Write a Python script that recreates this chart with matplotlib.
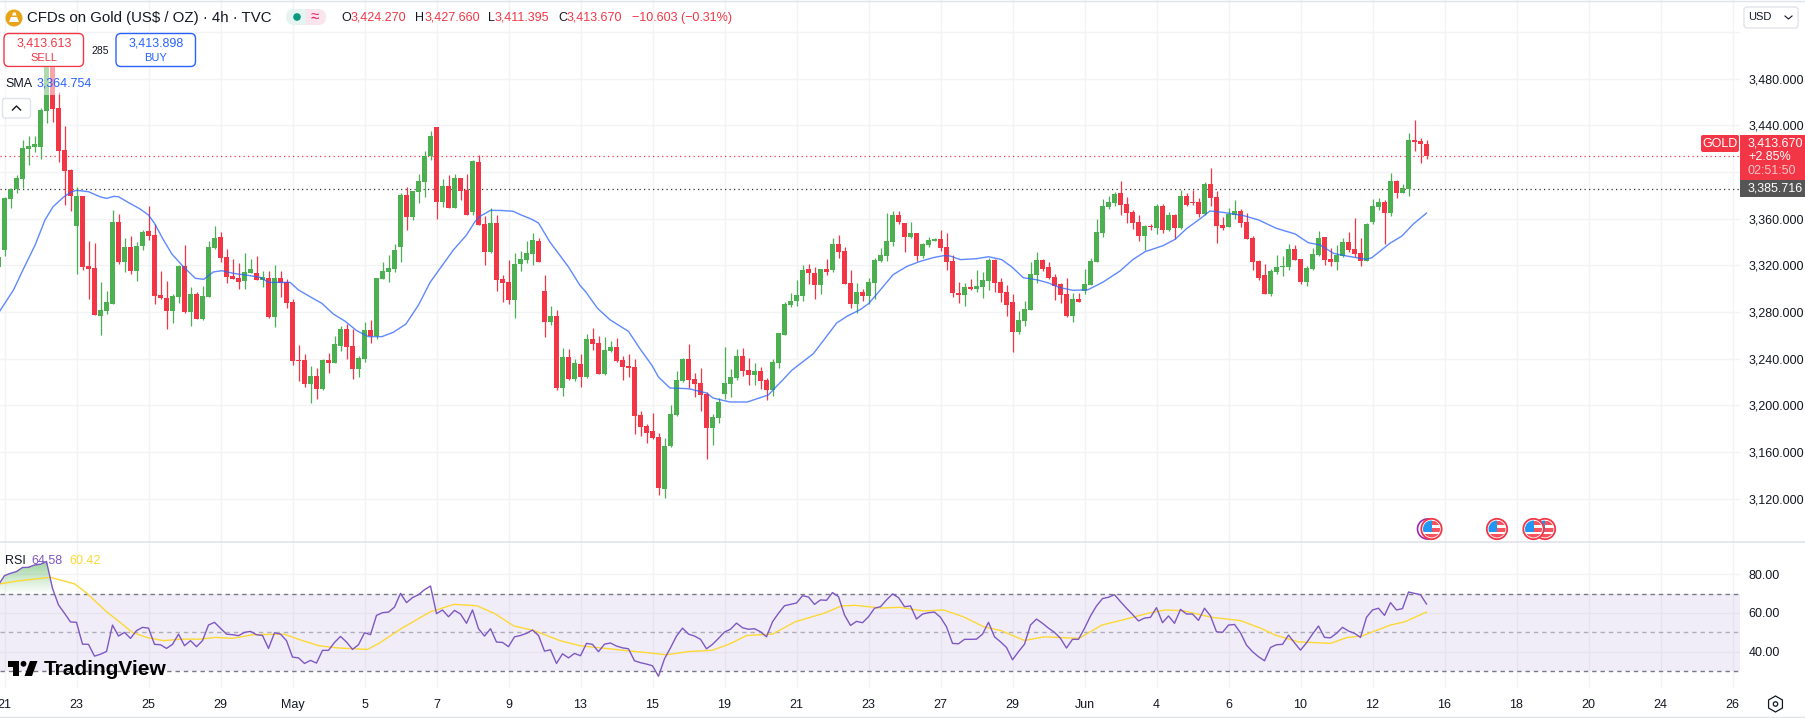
#!/usr/bin/env python
import matplotlib
matplotlib.use("Agg")
import matplotlib.pyplot as plt
import numpy as np
from matplotlib.colors import LinearSegmentedColormap
from matplotlib.patches import Circle, FancyBboxPatch, Polygon, Rectangle, RegularPolygon

plt.rcParams['font.family'] = ['Liberation Sans', 'DejaVu Sans']

# 4h bars, the first one sits just left of the "21" tick
price_open = [3318.9,
    3333.1,3376.9,3385.4,3394,3419.7,3421.4,3421.4,3452.3,3496,3454.9,
    3418.9,3401.7,3353.7,3379.4,3319.4,3317.7,3276.6,3280.9,3286.9,3357.1,
    3322.9,3335.7,3315.1,3336.6,3349.4,3346,3294.6,3292,3280.9,3292.9,
    3319.4,3280,3295.4,3274,3292.9,3334.9,3344.3,3327.1,3310.9,3309.1,
    3306.6,3313.4,3313.4,3307.4,3309.1,3275.7,3309.1,3305.7,3288.6,3238.9,
    3238.9,3218.3,3225.1,3214,3238.9,3236.3,3250.9,3265.4,3250.9,3231.1,
    3239.7,3264.6,3259.4,3308.3,3314.3,3316.9,3335.7,3380.3,3361.4,3382.9,
    3391.4,3413.7,3438.6,3374.3,3388,3369.1,3394.9,3384.6,3365.7,3408.6,
    3355.1,3331.1,3356,3308,3305.4,3290,3320.9,3324.3,3329.4,3340.6,
    3297.7,3271.1,3276.3,3214.6,3241.1,3222.3,3235.1,3224,3256.6,3253.1,
    3226.6,3246.3,3249.7,3238.6,3233.4,3232.6,3191.4,3182,3177.7,3172.6,
    3128,3164.9,3191.4,3220.6,3239.4,3222.3,3218.9,3209.4,3180.3,3188.9,
    3209.7,3218.3,3223.1,3242,3230,3225.7,3229.1,3221.7,3213.1,3236,
    3260,3285.7,3289.1,3293.4,3316.6,3313.1,3302.9,3316.6,3315.7,3338,
    3332,3304.6,3286.6,3296.9,3293.4,3304.6,3323.4,3327.7,3339.7,3362.9,
    3356,3344,3347.4,3327.7,3337.1,3340.6,3342.3,3335.4,3323.4,3296,
    3294.3,3301.1,3299.4,3301.1,3306.3,3324.3,3305.4,3296.9,3288.3,3262.6,
    3272,3281.4,3311.4,3324.3,3318.3,3309.7,3303.7,3295.1,3276.3,3290.9,
    3297.7,3302.9,3322.6,3347.4,3369.7,3373.1,3381.7,3372.3,3365.4,3356.9,
    3344.9,3353.4,3351.7,3370.6,3350,3362.9,3351.7,3379.1,3374,3374,
    3364,3389.7,3378.6,3354.6,3352.9,3363.1,3366.6,3357.1,3343.4,3323.7,
    3311.7,3295.4,3314.3,3318.6,3318.6,3334,3325.4,3305.7,3316.9,3328.9,
    3344.3,3325.4,3322.9,3328,3340,3334,3330.6,3323.7,3357.1,3370,
    3374.3,3364.9,3392.3,3382,3385.4,3427.4,3426.6,3424.27]
price_high = [3329,
    3378.9,3386,3397.4,3427.4,3430.9,3430.9,3454.9,3505,3500,3468.6,
    3439.4,3402.6,3387.1,3379.4,3340.9,3339.1,3305.7,3298,3367.4,3364,
    3343.4,3345.1,3340,3350.3,3370.9,3355.4,3315.1,3306.6,3295.4,3320.3,
    3337.4,3301.4,3297.1,3302.3,3340.9,3353.7,3348.6,3334,3325.4,3322,
    3330.6,3325.4,3328,3315.1,3315.1,3320.3,3315.1,3308.3,3291.1,3251.7,
    3244,3233.7,3232,3239.7,3244.9,3259.4,3268,3269.7,3265.4,3242.3,
    3271.4,3273.1,3309.1,3322.9,3328.9,3338.3,3382,3387.1,3383.7,3398.3,
    3418,3435.1,3438.6,3394,3397.4,3398.3,3394.9,3398.3,3410.3,3414.6,
    3362,3368.9,3362.9,3311.4,3324.3,3330.3,3332,3340.6,3347.4,3343.1,
    3311.4,3284.9,3281.4,3248.9,3248,3239.4,3243.7,3260.9,3266,3259.1,
    3258.3,3254.9,3257.4,3242,3243.7,3239.4,3194.9,3183.7,3193.1,3176,
    3171.7,3200,3229.1,3240.3,3252.3,3227.4,3231.7,3211.1,3192.3,3206,
    3249.7,3230.9,3248,3248.9,3240.3,3236,3232.6,3223.1,3239.4,3261.7,
    3288.3,3296,3307.1,3320,3320.9,3318.3,3316.6,3325.1,3343.1,3345.7,
    3335.4,3315.7,3304.6,3299.4,3308.9,3326,3334.6,3364.6,3366.3,3366.3,
    3356,3356.9,3347.4,3338.9,3344,3343.1,3350,3347.4,3328.6,3305.4,
    3304.6,3308,3315.7,3314,3326,3325.1,3308.9,3302.9,3295.1,3280.6,
    3289.1,3322.6,3331.1,3325.1,3322.6,3312.3,3304.6,3308.9,3296,3296,
    3316.6,3326,3359.4,3376.6,3379.1,3382.6,3392,3378.3,3367.1,3362.9,
    3354.3,3355.1,3372.3,3372.3,3365.4,3363.7,3384.3,3381.7,3384.3,3377.4,
    3391.4,3403.4,3383.7,3361.4,3369.1,3376,3368.3,3364.9,3345.1,3324.6,
    3321.1,3316.9,3328.9,3328,3338.3,3337.4,3325.4,3319.4,3334.9,3349.4,
    3344.3,3334.9,3337.4,3343.4,3348.6,3360.6,3343.4,3356.3,3376.9,3377.7,
    3376,3399.1,3393.1,3389.7,3433.4,3444.6,3429.1,3427.66]
price_low = [3317,
    3328,3369.1,3381.7,3386,3406,3417.1,3411.1,3442.3,3442.9,3408.6,
    3371.7,3366.6,3312.6,3316,3291.1,3277.4,3260.3,3278.3,3286.9,3321.1,
    3314.3,3312.6,3306.6,3333.1,3341.7,3286.9,3291,3265.4,3270.6,3287.7,
    3279.1,3268,3274,3273.1,3292.9,3334,3322.9,3304.9,3308.3,3299.7,
    3299.7,3313.4,3307.4,3301.4,3274.9,3267.1,3292.9,3283.4,3234.6,3220.9,
    3215.7,3202,3205.4,3213.1,3227.7,3236.3,3246.6,3239.7,3222.6,3224.3,
    3237.1,3253.4,3256.9,3308.3,3305.7,3314.3,3322.9,3350.3,3358.9,3373.4,
    3378.6,3410.3,3359.7,3370,3369.1,3369.1,3376,3363.1,3363.1,3354.6,
    3320,3330.3,3297.7,3288.3,3286.6,3274.6,3314.9,3321.7,3320,3322.6,
    3258.3,3268.6,3212.9,3207.7,3221.4,3220.6,3215.4,3223.1,3247.1,3226.6,
    3225.7,3245.4,3236.9,3221.4,3224,3175.1,3173.4,3167.4,3170.9,3122.9,
    3120.3,3164,3190.6,3219.7,3214.6,3206.9,3194.9,3153.7,3165.7,3184.6,
    3205.4,3207,3221.4,3224.9,3217.4,3217.4,3214,3204.6,3208,3231.7,
    3260,3284,3284.9,3289.1,3303.7,3290.9,3295.1,3311.4,3314,3326,
    3303.7,3283.1,3278.9,3289.1,3286.6,3290.9,3322.6,3323.4,3336.3,3355.1,
    3331.1,3343.1,3323.4,3326,3335.4,3340.6,3332,3315.7,3292.6,3287.4,
    3284.9,3298.6,3296.9,3291.7,3298.6,3296.9,3288.3,3276.3,3245.4,3260.9,
    3267.7,3281.4,3304.6,3314.9,3308,3290,3287.4,3275.4,3271.1,3288.3,
    3295.1,3302.9,3322.6,3344,3368,3370.6,3362.9,3356,3350.9,3340.6,
    3332.9,3350,3346.6,3347.4,3349.1,3342.3,3350.9,3370.6,3371.4,3361.1,
    3363.1,3370.9,3339.1,3350.3,3352.9,3359.7,3352.9,3342.6,3316,3307.4,
    3295.4,3293.7,3312.6,3310.9,3316,3324.6,3304,3302.3,3316,3328,
    3320.3,3319.4,3316,3327.1,3331.4,3327.1,3319.4,3323.7,3355.4,3367.4,
    3338.3,3362.3,3377.7,3382,3379.4,3418,3407.7,3411.395]
price_close = [3327.4,
    3377.7,3385.4,3394.9,3420.6,3422.3,3424,3453.1,3496,3454,3418,
    3400.9,3379.4,3379.4,3318.6,3316.9,3277.4,3281.7,3288.6,3357.1,3322.9,
    3335.7,3315.1,3336.6,3348.6,3345.1,3293.7,3292,3280.9,3293.7,3319.4,
    3280,3295.4,3274,3293.7,3335.7,3343.4,3326.3,3310,3308.3,3305.7,
    3314.3,3316.9,3307.4,3310,3275.7,3309.1,3304.9,3287.7,3238,3238,
    3218.3,3225.1,3214,3238.9,3236.3,3252.6,3265.4,3250,3231.1,3240.6,
    3264.6,3259.4,3309.1,3315.1,3317.7,3333.1,3380.3,3361.4,3383.7,3392.3,
    3413.7,3430.9,3374.3,3388,3369.1,3394.9,3383.7,3363.1,3409.4,3354.6,
    3331.1,3356,3307.1,3304.6,3290,3320.9,3325.1,3330.3,3341.4,3322.6,
    3271.1,3276.3,3214.6,3241.1,3222.3,3236,3224,3256.6,3252.3,3226.6,
    3247.1,3249.7,3237.7,3232.6,3231.7,3190.6,3181.1,3176,3171.7,3128.9,
    3164.9,3192.3,3221.4,3239.4,3221.4,3218,3208.6,3180.3,3189.7,3202.6,
    3219.1,3224,3242,3229.1,3225.7,3229.1,3220.9,3213.1,3236.9,3261.7,
    3286.6,3289.1,3294.3,3315.7,3313.1,3302.9,3316.6,3314,3338,3331.1,
    3303.7,3286.6,3296.9,3293.4,3305.4,3324.3,3328.6,3340.6,3362.9,3356.9,
    3344,3347.4,3327.7,3338,3341.4,3342.3,3334.6,3322.6,3296,3294.3,
    3301.1,3299.4,3302,3307.1,3324.3,3304.6,3296,3285.7,3262.6,3272.9,
    3282.3,3312.3,3324.3,3316.6,3308.9,3302,3294.3,3276.3,3290.9,3288.3,
    3303.7,3323.4,3348.3,3370.6,3374,3380.9,3371.4,3364.6,3356,3344.9,
    3353.4,3352.6,3370.6,3350,3362.9,3351.7,3379.1,3371.4,3373.1,3363.7,
    3389.7,3377.7,3353.7,3352,3364,3366.6,3356.3,3342.6,3322.9,3309.1,
    3295.4,3315.1,3318.6,3319.4,3334,3324.6,3305.7,3317.7,3329.7,3343.4,
    3324.6,3322.9,3328.9,3340,3333.1,3329.7,3323.7,3355.4,3370.9,3374.3,
    3364.9,3392.3,3382,3386.3,3427.4,3425.7,3424,3413.67]

# moving average, read at its bends (bar number, price)
sma_bar = [-0.75,1.5,3.2,5.1,6.75,8.1,9.8,11,12,14,16,17,18.2,19,20.7,22.6,24,25,26.5,27.9,
    29.8,31.8,33.2,34.8,36.2,38.2,41,42.6,44,47.6,49,51,52.9,54.8,56.8,58.7,60.7,62.9,64.8,66.9,
    69,70.9,72.6,74.8,77,78.4,79.25,81,83,84.8,86,87.9,89,90.9,94,95.9,96.9,98.8,100.9,104,
    105.9,107.9,109,110.9,114,117,118.1,120.9,123.8,127.3,129.8,131.2,134.8,136.5,138.7,140.4,
    142.6,144,146,148.1,150.4,152.6,154.8,156.5,157.6,159.3,162,164,166.2,167.9,169.8,172,174,
    175.9,178.1,180.6,183.1,185.9,188.1,190.1,193.1,195.1,197,199.3,200.9,203.1,206.5,209,212,
    215.1,217.3,219.3,221.5,223.7,227,227.9,230.9,232.9,234.8,237]
sma_val = [3281.1,3298.9,3317.4,3337.4,3358.9,3370.3,3378.3,3382.6,3384.3,3383.1,3378.6,3377.4,3379.1,
    3378.8,3373.7,3368.3,3363.1,3356,3341.7,3329.7,3318.9,3308.9,3308,3314.3,3315.4,3313.1,3311.1,
    3309.7,3305.4,3305.4,3298.9,3292.9,3287.4,3278.3,3272,3264,3258.9,3258.9,3262.6,3269.7,3286,
    3305.1,3317.4,3333.1,3346,3357.4,3362,3367.1,3367,3366.3,3363.4,3359.4,3356.3,3340,3318.6,
    3302.9,3297.1,3283.4,3273.4,3263.4,3248.6,3234.3,3224.3,3214.9,3214.3,3210.6,3206.3,3202.9,
    3202.9,3208.9,3222.3,3230,3244.3,3255.7,3270.6,3276.3,3282,3287.1,3299.1,3312,3319.1,3323.4,
    3326.6,3328.3,3328,3324.9,3325.7,3327.4,3324.9,3318.6,3309.4,3307.7,3304.9,3300.9,3298.6,
    3299.1,3305.7,3315.1,3325.1,3331.7,3336.9,3342.3,3351.4,3360,3366.6,3365.4,3362.6,3358.9,
    3351.7,3346.9,3339.4,3337.4,3330.3,3328,3325.1,3326.6,3338.9,3345.1,3355.4,3364.75]

# RSI, one value per bar
rsi_val = [74.5,
    79.3,80.5,81.4,83.5,83.6,84.8,85.2,86.6,72.7,64.1,
    59.8,55.3,55.1,43.8,43.7,37.6,38.6,40,53.7,48,
    49.9,46.8,50.8,52.5,52.1,43.7,43.5,41.6,43.7,49,
    43,45.6,42.5,45.6,53.7,55.1,52,49,48.7,48.2,
    49.9,50.4,48.7,48.3,41.6,49.7,49,45.6,37.1,36.7,
    33.8,35.4,34,40.6,40.6,44.7,47.8,44.9,41.1,43.5,
    49.7,48.7,58.7,60.1,60.4,63,70.1,65.3,67.9,69.4,
    72,73.9,59.6,61.5,58,61.3,59.4,54.6,61.5,51.8,
    48,51.8,44.9,44.7,42.5,47.6,48.3,49.4,51.1,48.3,
    40.2,40.9,33.8,38.8,36.7,39,37.8,44.2,43.7,39.9,
    43.8,44.4,42.8,41.9,41.4,35.2,34.2,33.5,32.6,27.2,
    36.2,41.9,48,52.1,49,48,46.3,41.4,43.7,46.8,
    50.1,51.5,54.7,52.3,51.5,51.8,50.2,47.6,55.4,59.8,
    63.7,64.4,65.1,68.9,68.2,64.4,66.7,66.5,70.5,68.4,
    58.9,53.5,55.6,54.9,58,62.4,63.2,66.7,69.8,67.9,
    63.2,63.6,56.8,59.4,60.1,60.4,57.7,52.8,44.2,44,
    46.3,46.3,46.4,49,55.1,47.6,45,42.1,35.7,39.9,
    43.8,53.7,56.8,54.6,52.1,49.9,46.8,41.8,46.3,46.3,
    52,58.4,63.6,67.4,68.1,69.4,65.8,62.4,59.2,55.8,
    57.3,57.7,62.7,54.9,58.4,54.6,61.8,59.4,59.4,56.1,
    62.4,58.4,50.2,49.9,53.7,54,49.7,43.3,39.9,37.3,
    35.2,42.1,43.5,43.7,48.5,44.5,40.7,44.5,49,53.2,
    47.3,47.1,49.4,52.5,50.6,49.4,47.3,57.7,61.5,62.4,
    58.7,65.3,61.5,62.2,70.8,70.1,69.4,64.58]

# RSI average, read at its bends
rsi_ma_bar = [-0.75,2.1,7.7,11.7,13.6,17,18.9,21.3,23.7,26.5,29.4,32.7,35.1,38,41.4,46.6,49,52.4,55.7,60.5,
    62.4,66.2,71,74.9,78.7,81.6,84.9,88.3,92.6,95.9,102.6,107.4,110.3,114.1,117.9,120.8,123.7,128,131.8,
    136.6,139.5,141.8,146.1,149.25,153.1,156.5,159.8,163.2,166.1,170,173.3,179.1,182.9,186.3,190.6,193.5,
    196.4,201.2,206,209.4,211.8,215.6,221,223.8,226.2,231,233.4,237]
rsi_ma_val = [75,76.5,78.4,75,70.5,60.6,56,49.9,47.3,45.6,46.4,46.4,47.3,46.8,48.7,49,46.3,43,41.8,41.1,
    44.2,52,60.6,64.4,63.7,59.8,53.2,50.8,45.6,43,40.8,39.3,38.3,40,40.6,43.8,48.3,49,55.4,
    59.8,63.6,63.9,62.5,62.9,61,61.5,58,52.8,50.8,45.7,47.6,46.8,53.7,56.3,59.8,61.5,
    61.1,57.7,56,52,48.5,45,44.2,47.3,48,53.7,55.4,60.42]

# one tick every 12 bars
date_labels = ['21','23','25','29','May','5','7','9','13','15','19','21','23','27','29','Jun',
    '4','6','10','12','16','18','20','24','26']
price_ticks = [3120,3160,3200,3240,3280,3320,3360,3400,3440,3480,3520]
price_tick_labels = ['3,120.000','3,160.000','3,200.000','3,240.000','3,280.000','3,320.000','3,360.000',
    '','3,440.000','3,480.000','']
rsi_ticks = [40,60,80]
rsi_tick_labels = ['40.00','60.00','80.00']
last_price = 3413.67
prev_close = 3385.716

GREEN = '#4caf50'
RED = '#f23645'
BLUE = '#2962ff'
GRID = '#f2f3f5'
TEXT = '#131722'
PURPLE = '#7e57c2'

W, H = 1805, 718
PANE_W = 1740.0
PANE_SPLIT = 542.0
RSI_BOTTOM = 688.0

def px_axes(fig, x0, y0, x1, y1, **kw):
    return fig.add_axes([x0 / W, 1 - y1 / H, (x1 - x0) / W, (y1 - y0) / H], **kw)

fig = plt.figure(figsize=(W / 100.0, H / 100.0), dpi=100, facecolor='white')
ax = px_axes(fig, 0, 0, PANE_W, PANE_SPLIT)
ax_rsi = px_axes(fig, 0, PANE_SPLIT, PANE_W, RSI_BOTTOM)
over = px_axes(fig, 0, 0, W, H, zorder=5)
over.set_xlim(0, W)
over.set_ylim(H, 0)
over.axis('off')
over.patch.set_alpha(0)

bars = np.arange(len(price_open)) - 1
po = np.array(price_open)
ph = np.array(price_high)
pl = np.array(price_low)
pc = np.array(price_close)
up = pc >= po
colors = np.where(up, GREEN, RED)
tick_bars = np.arange(len(date_labels)) * 12

# candles
ax.vlines(bars, pl, ph, colors=colors, linewidth=0.9, zorder=3)
ax.bar(bars, np.maximum(np.abs(pc - po), 0.9), bottom=np.minimum(po, pc), width=5.0 / 6, color=colors, linewidth=0, zorder=4)
ax.plot(sma_bar, sma_val, color=BLUE, lw=1.0, alpha=0.75, zorder=5)
ax.axhline(last_price, color=RED, lw=0.9, dashes=(1, 2.6), zorder=2)
ax.axhline(prev_close, color='#333333', lw=0.9, dashes=(1, 2.6), zorder=2)

ax.set_xlim(-0.75, 289.25)
ax.set_ylim(3082.9, 3547.4)
ax.set_xticks(tick_bars)
ax.set_xticklabels([])
ax.set_yticks(price_ticks)
ax.set_yticklabels(price_tick_labels, fontsize=9, color=TEXT)
ax.yaxis.tick_right()
ax.tick_params(axis='both', length=0, pad=6.2)
ax.grid(True, color=GRID, lw=1.0, zorder=0)
ax.set_axisbelow(True)
for s in ax.spines.values():
    s.set_visible(False)

# RSI pane
rsi = np.array(rsi_val)
ax_rsi.axhspan(30, 70, color=PURPLE, alpha=0.1, lw=0, zorder=1)
ax_rsi.axhline(70, color='#787b86', lw=1.0, dashes=(3.2, 2.8), zorder=2)
ax_rsi.axhline(50, color='#787b86', lw=1.0, dashes=(3.2, 2.8), alpha=0.55, zorder=2)
ax_rsi.axhline(30, color='#787b86', lw=1.0, dashes=(3.2, 2.8), zorder=2)
# green fade above the 70 band
hot = ax_rsi.fill_between(bars, 70, rsi, where=rsi > 70, interpolate=True, color='none', lw=0)
fade = LinearSegmentedColormap.from_list('fade', [(0.3, 0.69, 0.31, 0.0), (0.3, 0.69, 0.31, 0.55)])
grad = ax_rsi.imshow(np.linspace(1, 0, 64).reshape(-1, 1), extent=[-1, 12, 70, 87], aspect='auto', cmap=fade, zorder=2)
grad.set_clip_path(hot.get_paths()[0], transform=ax_rsi.transData)
ax_rsi.plot(bars, rsi, color=PURPLE, lw=1.0, zorder=4)
ax_rsi.plot(rsi_ma_bar, rsi_ma_val, color='#fdd835', lw=1.0, zorder=3)
ax_rsi.set_xlim(-0.75, 289.25)
ax_rsi.set_ylim(21.1, 96.7)
ax_rsi.set_xticks(tick_bars)
ax_rsi.set_xticklabels(date_labels, fontsize=9, color=TEXT)
ax_rsi.set_yticks(rsi_ticks)
ax_rsi.set_yticklabels(rsi_tick_labels, fontsize=9, color=TEXT)
ax_rsi.yaxis.tick_right()
ax_rsi.tick_params(axis='y', length=0, pad=6.2)
ax_rsi.tick_params(axis='x', length=0, pad=7.8)
ax_rsi.grid(True, color=GRID, lw=1.0, zorder=0)
ax_rsi.set_axisbelow(True)
for s in ax_rsi.spines.values():
    s.set_visible(False)

# pane borders
over.plot([0, W], [1, 1], color='#e0e3eb', lw=1.0)
over.plot([0, W], [PANE_SPLIT, PANE_SPLIT], color='#e0e3eb', lw=1.2)
over.plot([0, W], [717, 717], color='#e0e3eb', lw=1.0)

# header
over.add_patch(Circle((14, 18), 8.5, fc='#e8a317', ec='none'))
over.add_patch(Polygon([(9, 22), (11, 17), (17, 17), (19, 22)], fc='white', ec='none'))
over.add_patch(Polygon([(12, 15.5), (13, 12.5), (15.5, 12.5), (16.5, 15.5)], fc='white', ec='none'))
over.text(27, 18, 'CFDs on Gold (US$ / OZ) · 4h · TVC', fontsize=10.8, color=TEXT, va='center')
over.add_patch(FancyBboxPatch((286, 9), 32, 16, boxstyle='round,pad=0,rounding_size=8', fc='#e6f4f1', ec='none'))
over.add_patch(Rectangle((306, 9), 12, 16, fc='#fce4ec', ec='none'))
over.add_patch(FancyBboxPatch((310, 9), 16, 16, boxstyle='round,pad=0,rounding_size=8', fc='#fce4ec', ec='none'))
over.add_patch(Circle((297, 17), 3.8, fc='#089981', ec='none'))
over.text(315, 17, '≈', fontsize=11, color='#e91e63', ha='center', va='center')
ohlc_parts = [('O', 341, TEXT), ('3,424.270', 351, RED), ('H', 415, TEXT), ('3,427.660', 425, RED),
    ('L', 488, TEXT), ('3,411.395', 495, RED), ('C', 558, TEXT), ('3,413.670', 567, RED),
    ('−10.603 (−0.31%)', 632, RED)]
for label, xpos, col in ohlc_parts:
    over.text(xpos, 18, label, fontsize=9, color=col, va='center')

# buy and sell boxes
over.add_patch(FancyBboxPatch((4, 33.5), 79.5, 33, boxstyle='round,pad=0,rounding_size=5', fc='white', ec=RED, lw=1.0))
over.text(44, 44, '3,413.613', fontsize=9, color=RED, ha='center', va='center')
over.text(44, 58, 'SELL', fontsize=8, color=RED, ha='center', va='center')
over.add_patch(FancyBboxPatch((116, 33.5), 79.5, 33, boxstyle='round,pad=0,rounding_size=5', fc='white', ec=BLUE, lw=1.0))
over.text(156, 44, '3,413.898', fontsize=9, color=BLUE, ha='center', va='center')
over.text(156, 58, 'BUY', fontsize=8, color=BLUE, ha='center', va='center')
over.text(100, 50.5, '285', fontsize=7.5, color=TEXT, ha='center', va='center')

# legend rows, the candles show through faintly
over.add_patch(Rectangle((0, 67), 96, 28, fc='white', ec='none', alpha=0.55))
over.text(5, 84, 'SMA', fontsize=9, color=TEXT, va='center')
over.text(36.5, 84, '3,364.754', fontsize=9, color=BLUE, va='center')
over.add_patch(FancyBboxPatch((2.5, 98.5), 28, 19.5, boxstyle='round,pad=0,rounding_size=2.5', fc='white', ec='#e0e3eb', lw=1.0))
over.plot([12.5, 16.5, 20.5], [110, 106, 110], color=TEXT, lw=1.0)
over.text(5, 560.5, 'RSI', fontsize=9, color=TEXT, va='center')
over.text(31, 560.5, '64.58', fontsize=9, color=PURPLE, va='center')
over.text(69, 560.5, '60.42', fontsize=9, color='#fdd835', va='center')

# price tags
over.add_patch(FancyBboxPatch((1701, 135), 38, 17, boxstyle='round,pad=0,rounding_size=2', fc=RED, ec='none'))
over.text(1720, 144, 'GOLD', fontsize=9, color='white', ha='center', va='center')
over.add_patch(Rectangle((1740, 135), 65, 45, fc=RED, ec='none'))
over.text(1748, 143, '3,413.670', fontsize=9, color='white', va='center')
over.text(1748, 157, '+2.85%', fontsize=9, color='white', va='center')
over.text(1748, 171, '02:51:50', fontsize=9, color='#fbc4c9', va='center')
over.add_patch(Rectangle((1740, 180), 65, 17, fc='#555555', ec='none'))
over.text(1748, 188.5, '3,385.716', fontsize=9, color='white', va='center')

# currency button
over.add_patch(FancyBboxPatch((1744, 7), 54, 21, boxstyle='round,pad=0,rounding_size=3', fc='white', ec='#e0e3eb', lw=1.0))
over.text(1748, 17.5, 'USD', fontsize=8, color=TEXT, va='center')
over.plot([1785, 1788.5, 1792], [16, 19, 16], color=TEXT, lw=0.8)

# calendar flags
def flag(cx, cy):
    base = Circle((cx, cy), 10.2, fc='white', ec=RED, lw=1.3)
    over.add_patch(base)
    clip = Circle((cx, cy), 8.5, transform=over.transData)
    for shape in [Rectangle((cx, cy - 8.5), 9, 4, fc='#f7525f', ec='none'),
                  Rectangle((cx, cy - 1.5), 9, 4, fc='#f7525f', ec='none'),
                  Rectangle((cx - 9, cy + 4.5), 18, 5, fc='#f7525f', ec='none'),
                  Rectangle((cx - 9, cy - 9), 9, 11.5, fc='#2196f3', ec='none')]:
        over.add_patch(shape)
        shape.set_clip_path(clip)

over.add_patch(Circle((1427.5, 529), 10, fc='white', ec='#9c27b0', lw=1.2))
for cx in [1431.5, 1497, 1545, 1533.5]:
    flag(cx, 529)

# watermark
over.add_patch(Polygon([(7.5, 661), (19, 661), (19, 676), (13, 676), (13, 666.5), (7.5, 666.5)], fc='black', ec='none'))
over.add_patch(Circle((23.5, 663.8), 2.9, fc='black', ec='none'))
over.add_patch(Polygon([(30, 661), (37.5, 661), (32, 676), (24.5, 676)], fc='black', ec='none'))
over.text(44, 669.5, 'TradingView', fontsize=15, fontweight='bold', color='black', va='center')

# settings icon
over.add_patch(RegularPolygon((1775.5, 704), 6, radius=8, fc='white', ec=TEXT, lw=0.9))
over.add_patch(Circle((1775.5, 704), 2.2, fc='white', ec=TEXT, lw=0.9))

fig.savefig('out.png', dpi=100)
plt.close()
